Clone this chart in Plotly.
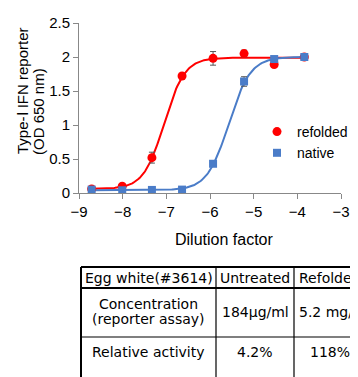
import numpy as np
import plotly.graph_objects as go

# ---- data ----
dilution = [-8.71, -8.01, -7.33, -6.64, -5.93, -5.22, -4.53, -3.84]
refolded = [0.06, 0.10, 0.52, 1.72, 1.98, 2.05, 1.89, 2.00]
refolded_err = [0.0, 0.0, 0.08, 0.0, 0.10, 0.05, 0.0, 0.0]
native = [0.05, 0.04, 0.045, 0.05, 0.43, 1.64, 1.97, 2.00]
native_err = [0.0, 0.0, 0.0, 0.0, 0.04, 0.07, 0.0, 0.0]

# 4-parameter logistic fit parameters (bottom, top, logEC50, hill)
refolded_fit = (0.06, 1.99, -7.05, 1.85)
native_fit = (0.04, 2.00, -5.57, 1.75)

x_ticks = [-9, -8, -7, -6, -5, -4, -3]
y_ticks = [0, 0.5, 1, 1.5, 2, 2.5]
y_ticktext = ["0", "0.5", "1", "1.5", "2", "2.5"]

table_header = ["Egg white(#3614)", "Untreated", "Refolded"]
table_row1 = ["Concentration", "(reporter assay)", "184μg/ml", "5.2 mg/ml"]
table_row2 = ["Relative activity", "4.2%", "118%"]

# page geometry (page pixels); the page body has an 8px margin
OFF = 8
PW, PH = 358, 377
L, R, T, B = 79, 341, 23, 193
W, H = PW - OFF, PH - OFF


def logistic(x, p):
    b, t, c, h = p
    return b + (t - b) / (1 + 10 ** ((c - x) * h))


xs = np.linspace(dilution[0], dilution[-1], 200)

RED = "#ff0000"
BLUE = "#4a7cc8"

fig = go.Figure()
fig.add_trace(go.Scatter(x=xs, y=logistic(xs, refolded_fit), mode="lines",
                         line=dict(color=RED, width=2), showlegend=False, hoverinfo="skip"))
fig.add_trace(go.Scatter(x=xs, y=logistic(xs, native_fit), mode="lines",
                         line=dict(color=BLUE, width=2), showlegend=False, hoverinfo="skip"))
fig.add_trace(go.Scatter(x=dilution, y=refolded, mode="markers", name="refolded",
                         marker=dict(color=RED, size=9, symbol="circle"),
                         error_y=dict(type="data", array=refolded_err, color="#555555",
                                      thickness=1, width=3)))
fig.add_trace(go.Scatter(x=dilution, y=native, mode="markers", name="native",
                         marker=dict(color=BLUE, size=8, symbol="square"),
                         error_y=dict(type="data", array=native_err, color="#555555",
                                      thickness=1, width=3)))

FONT = "Liberation Sans, Arial, sans-serif"


def px_x(px):
    return (px - L) / (R - L)


def px_y(py):
    return (B - py) / (B - T)


annotations = [
    dict(text="Type-Ⅰ IFN reporter", x=px_x(22), y=px_y(91), xref="paper", yref="paper",
         xanchor="center", yanchor="middle",
         textangle=-90, showarrow=False, font=dict(size=15, color="black", family=FONT)),
    dict(text="(OD 650 nm)", x=px_x(38), y=px_y(112), xref="paper", yref="paper",
         xanchor="center", yanchor="middle",
         textangle=-90, showarrow=False, font=dict(size=15, color="black", family=FONT)),
    dict(text="Dilution factor", x=px_x(224), y=px_y(240), xref="paper", yref="paper",
         xanchor="center", yanchor="middle", showarrow=False,
         font=dict(size=16, color="black", family=FONT)),
]

shapes = []
tx0, tx1, tx2, tx3 = 81, 216, 294, 420
ty0, ty1, ty2, ty3 = 267, 288, 337, 420
for yy, w in [(ty0, 2), (ty1, 2), (ty2, 1.2)]:
    shapes.append(dict(type="line", xref="paper", yref="paper", x0=px_x(tx0), x1=px_x(tx3),
                       y0=px_y(yy), y1=px_y(yy), line=dict(color="black", width=w)))
for xx, w in [(tx0, 2), (tx1, 1.2), (tx2, 1.2)]:
    shapes.append(dict(type="line", xref="paper", yref="paper", x0=px_x(xx), x1=px_x(xx),
                       y0=px_y(ty0), y1=px_y(ty3), line=dict(color="black", width=w)))

TFONT = dict(size=14, color="black", family="DejaVu Sans, sans-serif")


def cell(text, x, y, anchor="center"):
    return dict(text=text, x=px_x(x), y=px_y(y), xref="paper", yref="paper",
                xanchor=anchor, yanchor="middle", showarrow=False, font=TFONT)


c1, c2, c3 = (tx0 + tx1) / 2, (tx1 + tx2) / 2, tx2 + 3
annotations += [
    cell(table_header[0], c1, 278),
    cell(table_header[1], c2, 278),
    cell(table_header[2], c3, 278, "left"),
    cell(table_row1[0], c1, 304),
    cell(table_row1[1], c1, 319),
    cell(table_row1[2], c2, 312),
    cell(table_row1[3], c3, 312, "left"),
    cell(table_row2[0], c1, 352),
    cell(table_row2[1], c2, 352),
    cell(table_row2[2], c3 + 11, 352, "left"),
]

fig.update_layout(
    width=W, height=H,
    margin=dict(l=L - OFF, r=W - (R - OFF), t=T - OFF, b=H - (B - OFF), pad=0,
                autoexpand=False),
    paper_bgcolor="white", plot_bgcolor="white",
    font=dict(family=FONT, size=15, color="black"),
    xaxis=dict(range=[-9, -3], tickvals=x_ticks, showgrid=False,
               zeroline=False, showline=True, linecolor="#888888", linewidth=1,
               ticks="outside", ticklen=5, tickcolor="#888888"),
    yaxis=dict(range=[0, 2.5], tickvals=y_ticks, ticktext=y_ticktext, showgrid=False,
               zeroline=False, showline=True, linecolor="#888888", linewidth=1,
               ticks="outside", ticklen=5, tickcolor="#888888"),
    legend=dict(x=px_x(257), y=px_y(116), xanchor="left", yanchor="top",
                bgcolor="rgba(0,0,0,0)", font=dict(size=14), tracegroupgap=0),
    annotations=annotations,
    shapes=shapes,
)

fig.write_html("out.html")
